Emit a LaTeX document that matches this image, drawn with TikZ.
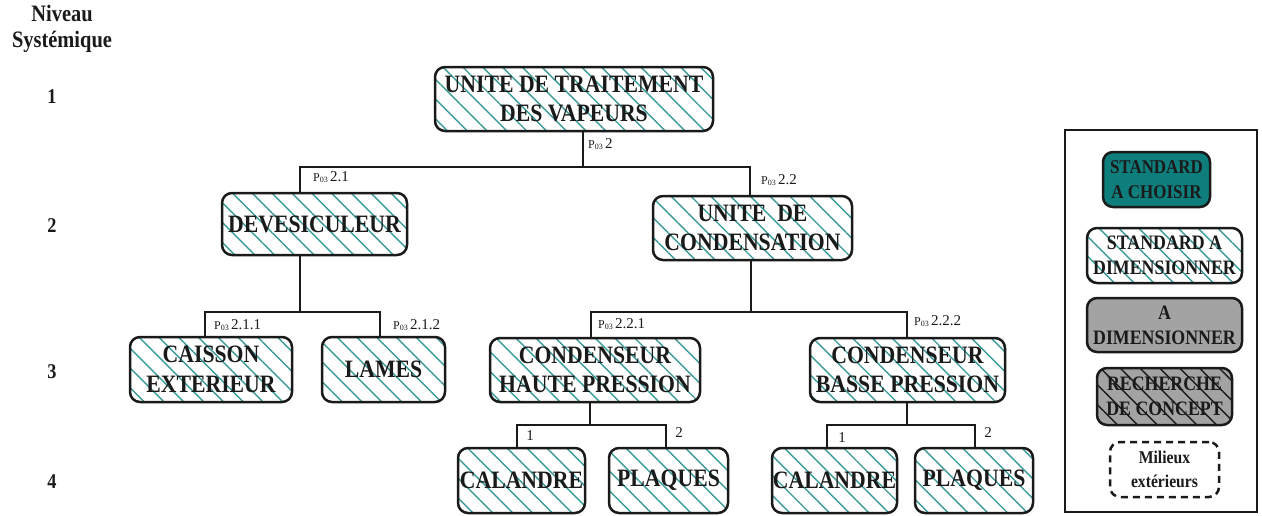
\documentclass[tikz,border=0pt]{standalone}
\usepackage{fontspec}
\setmainfont{Liberation Serif}
\newfontfamily\tallserif[FakeStretch=0.87]{Liberation Serif}
\usetikzlibrary{patterns.meta}
\definecolor{hatch}{HTML}{3A9A98}
\definecolor{tealfill}{HTML}{0E7E7D}
\definecolor{grayfill}{HTML}{A3A3A3}
\definecolor{ink}{HTML}{1A1A1A}
\begin{document}
\begin{tikzpicture}[x=1pt,y=-1pt,
  conn/.style={line width=2.5pt, draw=ink},
  sysbox/.style={draw=ink, line width=2.5pt, rounded corners=10pt, align=center,
    inner sep=0pt, text=ink, font=\tallserif\fontsize{25}{29.5}\selectfont\bfseries},
  hatched/.style={pattern={Lines[angle=-45,distance=14pt,line width=1.4pt]}, pattern color=hatch},
  plabel/.style={anchor=west, inner sep=0pt, text=ink},
  numlabel/.style={inner sep=0pt, text=ink, font=\fontsize{15}{17}\selectfont},
  levlabel/.style={inner sep=0pt, text=ink, font=\tallserif\fontsize{21}{25}\selectfont\bfseries},
  legbox/.style={sysbox, font=\tallserif\fontsize{20.5}{25}\selectfont\bfseries}
]
\useasboundingbox (0,0) rectangle (1262,515);
\newcommand{\pl}[1]{{\fontsize{12}{14}\selectfont P\textsubscript{03}}\,{\fontsize{15}{17}\selectfont #1}}

% level column
\node[levlabel, align=center, font=\tallserif\fontsize{23.5}{26}\selectfont\bfseries] (niv) at (62,29) {Niveau\\Systémique};
\node[levlabel] (l1) at (52,97) {1};
\node[levlabel] (l2) at (52,226) {2};
\node[levlabel] (l3) at (52,372) {3};
\node[levlabel] (l4) at (52,482) {4};

% boxes
\node[sysbox, hatched, minimum width=278pt, minimum height=64pt] (root) at (574,99) {UNITE DE TRAITEMENT\\DES VAPEURS};
\node[sysbox, hatched, minimum width=185pt, minimum height=62pt] (dev) at (314.5,224) {DEVESICULEUR};
\node[sysbox, hatched, minimum width=199pt, minimum height=64pt] (ucond) at (752.5,228) {UNITE\ \ DE\\CONDENSATION};
\node[sysbox, hatched, minimum width=162pt, minimum height=65pt] (caisson) at (211,369.5) {CAISSON\\EXTERIEUR};
\node[sysbox, hatched, minimum width=123pt, minimum height=65pt] (lames) at (383.5,369.5) {LAMES};
\node[sysbox, hatched, minimum width=210pt, minimum height=64pt] (chp) at (595,370) {CONDENSEUR\\HAUTE PRESSION};
\node[sysbox, hatched, minimum width=195pt, minimum height=64pt] (cbp) at (907.5,370) {CONDENSEUR\\BASSE PRESSION};
\node[sysbox, hatched, minimum width=127pt, minimum height=65pt] (cal1) at (521.5,480.5) {CALANDRE};
\node[sysbox, hatched, minimum width=119pt, minimum height=65pt] (plq1) at (668.5,480.5) {PLAQUES};
\node[sysbox, hatched, minimum width=125pt, minimum height=65pt] (cal2) at (834.5,480.5) {CALANDRE};
\node[sysbox, hatched, minimum width=118pt, minimum height=65pt] (plq2) at (974,480.5) {PLAQUES};

% junctions
\coordinate (s1) at (583,167); \coordinate (a1) at (300,167); \coordinate (b1) at (750,167);
\coordinate (s2) at (300,312); \coordinate (a2) at (205,312); \coordinate (b2) at (380,312);
\coordinate (s3) at (751,312); \coordinate (a3) at (591,312); \coordinate (b3) at (907,312);
\coordinate (s4) at (590,425); \coordinate (a4) at (517,425); \coordinate (b4) at (666,425);
\coordinate (s5) at (907,425); \coordinate (a5) at (827,425); \coordinate (b5) at (975,425);

\draw[conn] (root.south -| s1) -- (s1);
\draw[conn] (dev.north -| a1) -- (a1) -- (b1) -- (ucond.north -| b1);
\draw[conn] (dev.south -| s2) -- (s2);
\draw[conn] (caisson.north -| a2) -- (a2) -- (b2) -- (lames.north -| b2);
\draw[conn] (ucond.south -| s3) -- (s3);
\draw[conn] (chp.north -| a3) -- (a3) -- (b3) -- (cbp.north -| b3);
\draw[conn] (chp.south -| s4) -- (s4);
\draw[conn] (cal1.north -| a4) -- (a4) -- (b4) -- (plq1.north -| b4);
\draw[conn] (cbp.south -| s5) -- (s5);
\draw[conn] (cal2.north -| a5) -- (a5) -- (b5) -- (plq2.north -| b5);

% labels
\node[plabel] (p2) at (588,144) {\pl{2}};
\node[plabel] (p21) at (313,177) {\pl{2.1}};
\node[plabel] (p22) at (761,180) {\pl{2.2}};
\node[plabel] (p211) at (214,325) {\pl{2.1.1}};
\node[plabel] (p212) at (393,325) {\pl{2.1.2}};
\node[plabel] (p221) at (598,324) {\pl{2.2.1}};
\node[plabel] (p222) at (914,321) {\pl{2.2.2}};
\node[numlabel] (n1a) at (530,436) {1};
\node[numlabel] (n2a) at (679,433) {2};
\node[numlabel] (n1b) at (842,438) {1};
\node[numlabel] (n2b) at (988,433) {2};

% legend
\draw[line width=2.5pt, draw=ink] (1065,130) rectangle (1257,512);
\node[legbox, fill=tealfill, minimum width=107pt, minimum height=55pt, font=\tallserif\fontsize{19.5}{25}\selectfont\bfseries] (lg1) at (1156.5,179.5) {STANDARD\\A CHOISIR};
\node[legbox, hatched, minimum width=155pt, minimum height=55pt] (lg2) at (1164.5,255.5) {STANDARD A\\DIMENSIONNER};
\node[legbox, fill=grayfill, minimum width=155pt, minimum height=54pt] (lg3) at (1164.5,325) {A\\DIMENSIONNER};
\node[legbox, preaction={fill=grayfill}, pattern={Lines[angle=-45,distance=14pt,line width=1.4pt]}, pattern color=ink, minimum width=135pt, minimum height=57pt] (lg4) at (1164.5,396.5) {RECHERCHE\\DE CONCEPT};
\node[legbox, dashed, dash pattern=on 7pt off 5pt, fill=white, minimum width=109pt, minimum height=55pt, font=\tallserif\fontsize{18}{24}\selectfont\bfseries] (lg5) at (1164.5,469.5) {Milieux\\extérieurs};
\end{tikzpicture}
\end{document}
